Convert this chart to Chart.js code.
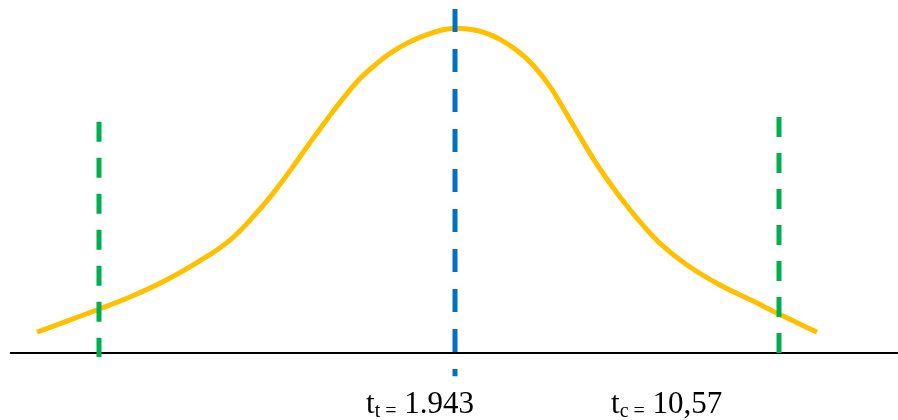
<!DOCTYPE html>
<html>
<head>
<meta charset="utf-8">
<script src="https://cdn.jsdelivr.net/npm/chart.js@4/dist/chart.umd.min.js"></script>
<style>
  body { margin: 0; background: #fff; }
  #wrap { position: relative; width: 898px; height: 420px; }
  .lbl {
    position: absolute; top: 387px;
    font-family: "Liberation Serif", "Times New Roman", serif;
    font-size: 31px; line-height: 31px; color: #000; white-space: nowrap;
  }
  .lbl sub { font-size: 20px; vertical-align: -4px; line-height: 0; }
</style>
</head>
<body>
<div id="wrap">
  <canvas id="tChart" width="898" height="420"></canvas>
  <div class="lbl" style="left:366px">t<sub>t =</sub> 1.943</div>
  <div class="lbl" style="left:611px">t<sub>c =</sub> 10,57</div>
</div>
<script>
// t distribution curve
var curveT = [-4.18, -3.92, -3.58, -3.25, -2.92, -2.58, -2.25, -1.95, -1.78, -1.62, -1.45, -1.28,
              -1.12, -0.95, -0.78, -0.62, -0.45, -0.28, -0.12, 0,
              0.18, 0.28, 0.45, 0.62, 0.78, 0.95, 1.12, 1.28, 1.45, 1.65, 1.85, 2.05,
              2.32, 2.65, 2.98, 3.25, 3.62];
var curveY = [0.026, 0.038, 0.054, 0.070, 0.089, 0.113, 0.141, 0.180, 0.206, 0.233, 0.263, 0.292,
              0.318, 0.343, 0.362, 0.377, 0.389, 0.398, 0.404, 0.406,
              0.404, 0.401, 0.392, 0.378, 0.360, 0.333, 0.298, 0.264, 0.230, 0.195, 0.164, 0.137,
              0.110, 0.085, 0.065, 0.048, 0.026];

// vertical markers
var tTable = 0;          // t_t line (blue)
var tLeft = -3.56;       // green lines
var tRight = 3.24;
var blueTop = 0.43, blueBottom = -0.029;
var greenLeftTop = 0.289, greenRightTop = 0.295, greenBottom = -0.005;

// axis line
var axisFrom = -4.45, axisTo = 4.43;

function pts(xs, ys) {
    var out = [];
    for (var i = 0; i < xs.length; i++) out.push({x: xs[i], y: ys[i]});
    return out;
}

var ctx = document.getElementById('tChart');
new Chart(ctx, {
    type: 'line',
    data: {
        datasets: [
        {
            data: pts([axisFrom, axisTo], [0, 0]),
            borderColor: '#000000', borderWidth: 2, pointRadius: 0, order: 4
        },
        {
            data: pts(curveT, curveY),
            borderColor: '#FFC000', borderWidth: 5, pointRadius: 0,
            tension: 0.4, order: 3
        },
        {
            data: pts([tTable, tTable], [blueTop, blueBottom]),
            borderColor: '#0070C0', borderWidth: 5, pointRadius: 0,
            borderDash: [23, 17], borderCapStyle: 'butt', order: 1
        },
        {
            data: pts([tLeft, tLeft], [greenLeftTop, greenBottom]),
            borderColor: '#00B050', borderWidth: 5, pointRadius: 0,
            borderDash: [20, 16], order: 2
        },
        {
            data: pts([tRight, tRight], [greenRightTop, greenBottom]),
            borderColor: '#00B050', borderWidth: 5, pointRadius: 0,
            borderDash: [20, 16], order: 2
        }
        ]
    },
    options: {
        responsive: false,
        animation: false,
        devicePixelRatio: 1,
        layout: { padding: 0 },
        plugins: { legend: { display: false }, tooltip: { enabled: false } },
        scales: {
            x: { type: 'linear', min: -4.55, max: 4.43, display: false },
            y: { min: -0.08375, max: 0.44125, display: false }
        }
    }
});
</script>
</body>
</html>
